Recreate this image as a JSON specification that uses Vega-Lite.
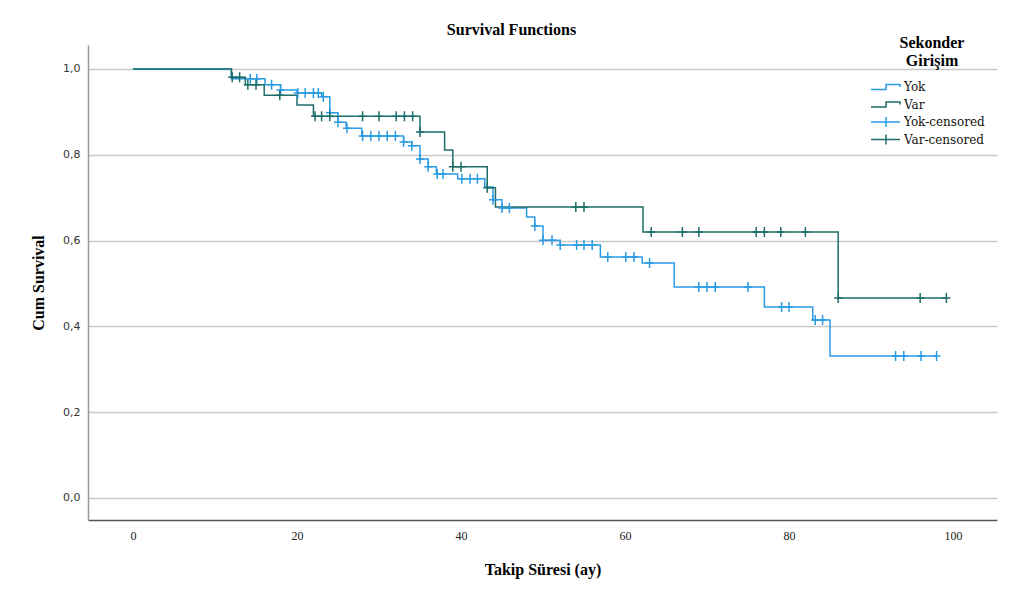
{
  "$schema": "https://vega.github.io/schema/vega-lite/v6.json",
  "autosize": {"type": "none"},
  "padding": {"left": 88, "top": 45, "right": 13, "bottom": 74},
  "width": 909,
  "height": 475,
  "background": "white",
  "config": {"view": {"stroke": null}},
  "title": {"text": "Survival Functions", "font": "Liberation Serif", "fontSize": 16, "fontWeight": "bold", "color": "#000", "anchor": "middle", "frame": "group", "dx": -31, "offset": -3},
  "data": {"values": [
    {"label": "Yok", "kind": "curve", "t": 0, "s": 1.0},
    {"label": "Yok", "kind": "curve", "t": 12.0, "s": 0.977},
    {"label": "Yok", "kind": "curve", "t": 16.1, "s": 0.963},
    {"label": "Yok", "kind": "curve", "t": 18.0, "s": 0.951},
    {"label": "Yok", "kind": "curve", "t": 20.0, "s": 0.944},
    {"label": "Yok", "kind": "curve", "t": 23.0, "s": 0.935},
    {"label": "Yok", "kind": "curve", "t": 24.0, "s": 0.898},
    {"label": "Yok", "kind": "curve", "t": 25.0, "s": 0.876},
    {"label": "Yok", "kind": "curve", "t": 26.0, "s": 0.862},
    {"label": "Yok", "kind": "curve", "t": 27.9, "s": 0.844},
    {"label": "Yok", "kind": "curve", "t": 33.0, "s": 0.830},
    {"label": "Yok", "kind": "curve", "t": 34.0, "s": 0.821},
    {"label": "Yok", "kind": "curve", "t": 35.0, "s": 0.790},
    {"label": "Yok", "kind": "curve", "t": 36.0, "s": 0.772},
    {"label": "Yok", "kind": "curve", "t": 37.0, "s": 0.755},
    {"label": "Yok", "kind": "curve", "t": 39.6, "s": 0.744},
    {"label": "Yok", "kind": "curve", "t": 42.9, "s": 0.725},
    {"label": "Yok", "kind": "curve", "t": 43.9, "s": 0.695},
    {"label": "Yok", "kind": "curve", "t": 45.0, "s": 0.676},
    {"label": "Yok", "kind": "curve", "t": 48.0, "s": 0.655},
    {"label": "Yok", "kind": "curve", "t": 49.0, "s": 0.634},
    {"label": "Yok", "kind": "curve", "t": 50.0, "s": 0.601},
    {"label": "Yok", "kind": "curve", "t": 52.1, "s": 0.590},
    {"label": "Yok", "kind": "curve", "t": 57.0, "s": 0.562},
    {"label": "Yok", "kind": "curve", "t": 62.1, "s": 0.548},
    {"label": "Yok", "kind": "curve", "t": 66.0, "s": 0.492},
    {"label": "Yok", "kind": "curve", "t": 77.0, "s": 0.445},
    {"label": "Yok", "kind": "curve", "t": 82.9, "s": 0.415},
    {"label": "Yok", "kind": "curve", "t": 85.0, "s": 0.331},
    {"label": "Yok", "kind": "curve", "t": 98.0, "s": 0.331},
    {"label": "Var", "kind": "curve", "t": 0, "s": 1.0},
    {"label": "Var", "kind": "curve", "t": 12.0, "s": 0.981},
    {"label": "Var", "kind": "curve", "t": 13.7, "s": 0.963},
    {"label": "Var", "kind": "curve", "t": 16.0, "s": 0.939},
    {"label": "Var", "kind": "curve", "t": 20.0, "s": 0.916},
    {"label": "Var", "kind": "curve", "t": 22.0, "s": 0.890},
    {"label": "Var", "kind": "curve", "t": 35.0, "s": 0.853},
    {"label": "Var", "kind": "curve", "t": 38.0, "s": 0.811},
    {"label": "Var", "kind": "curve", "t": 39.0, "s": 0.772},
    {"label": "Var", "kind": "curve", "t": 43.2, "s": 0.723},
    {"label": "Var", "kind": "curve", "t": 44.2, "s": 0.678},
    {"label": "Var", "kind": "curve", "t": 62.2, "s": 0.620},
    {"label": "Var", "kind": "curve", "t": 86.0, "s": 0.466},
    {"label": "Var", "kind": "curve", "t": 99.2, "s": 0.466},
    {"label": "Yok-censored", "kind": "censor", "t": 14.3, "s": 0.977},
    {"label": "Yok-censored", "kind": "censor", "t": 15.1, "s": 0.977},
    {"label": "Yok-censored", "kind": "censor", "t": 16.9, "s": 0.963},
    {"label": "Yok-censored", "kind": "censor", "t": 18.0, "s": 0.951},
    {"label": "Yok-censored", "kind": "censor", "t": 20.1, "s": 0.944},
    {"label": "Yok-censored", "kind": "censor", "t": 21.0, "s": 0.944},
    {"label": "Yok-censored", "kind": "censor", "t": 22.0, "s": 0.944},
    {"label": "Yok-censored", "kind": "censor", "t": 22.6, "s": 0.944},
    {"label": "Yok-censored", "kind": "censor", "t": 23.2, "s": 0.935},
    {"label": "Yok-censored", "kind": "censor", "t": 24.0, "s": 0.898},
    {"label": "Yok-censored", "kind": "censor", "t": 25.0, "s": 0.876},
    {"label": "Yok-censored", "kind": "censor", "t": 26.1, "s": 0.862},
    {"label": "Yok-censored", "kind": "censor", "t": 28.0, "s": 0.844},
    {"label": "Yok-censored", "kind": "censor", "t": 29.0, "s": 0.844},
    {"label": "Yok-censored", "kind": "censor", "t": 30.0, "s": 0.844},
    {"label": "Yok-censored", "kind": "censor", "t": 31.0, "s": 0.844},
    {"label": "Yok-censored", "kind": "censor", "t": 32.0, "s": 0.844},
    {"label": "Yok-censored", "kind": "censor", "t": 33.0, "s": 0.830},
    {"label": "Yok-censored", "kind": "censor", "t": 34.0, "s": 0.821},
    {"label": "Yok-censored", "kind": "censor", "t": 35.0, "s": 0.790},
    {"label": "Yok-censored", "kind": "censor", "t": 36.0, "s": 0.772},
    {"label": "Yok-censored", "kind": "censor", "t": 37.1, "s": 0.755},
    {"label": "Yok-censored", "kind": "censor", "t": 37.8, "s": 0.755},
    {"label": "Yok-censored", "kind": "censor", "t": 40.1, "s": 0.744},
    {"label": "Yok-censored", "kind": "censor", "t": 41.1, "s": 0.744},
    {"label": "Yok-censored", "kind": "censor", "t": 42.0, "s": 0.744},
    {"label": "Yok-censored", "kind": "censor", "t": 43.9, "s": 0.695},
    {"label": "Yok-censored", "kind": "censor", "t": 45.0, "s": 0.676},
    {"label": "Yok-censored", "kind": "censor", "t": 45.9, "s": 0.676},
    {"label": "Yok-censored", "kind": "censor", "t": 49.0, "s": 0.634},
    {"label": "Yok-censored", "kind": "censor", "t": 50.0, "s": 0.601},
    {"label": "Yok-censored", "kind": "censor", "t": 51.1, "s": 0.601},
    {"label": "Yok-censored", "kind": "censor", "t": 52.1, "s": 0.590},
    {"label": "Yok-censored", "kind": "censor", "t": 54.1, "s": 0.590},
    {"label": "Yok-censored", "kind": "censor", "t": 55.0, "s": 0.590},
    {"label": "Yok-censored", "kind": "censor", "t": 56.0, "s": 0.590},
    {"label": "Yok-censored", "kind": "censor", "t": 57.9, "s": 0.562},
    {"label": "Yok-censored", "kind": "censor", "t": 60.1, "s": 0.562},
    {"label": "Yok-censored", "kind": "censor", "t": 61.1, "s": 0.562},
    {"label": "Yok-censored", "kind": "censor", "t": 63.0, "s": 0.548},
    {"label": "Yok-censored", "kind": "censor", "t": 69.0, "s": 0.492},
    {"label": "Yok-censored", "kind": "censor", "t": 70.0, "s": 0.492},
    {"label": "Yok-censored", "kind": "censor", "t": 71.0, "s": 0.492},
    {"label": "Yok-censored", "kind": "censor", "t": 75.0, "s": 0.492},
    {"label": "Yok-censored", "kind": "censor", "t": 79.1, "s": 0.445},
    {"label": "Yok-censored", "kind": "censor", "t": 80.0, "s": 0.445},
    {"label": "Yok-censored", "kind": "censor", "t": 83.2, "s": 0.415},
    {"label": "Yok-censored", "kind": "censor", "t": 84.1, "s": 0.415},
    {"label": "Yok-censored", "kind": "censor", "t": 93.0, "s": 0.331},
    {"label": "Yok-censored", "kind": "censor", "t": 94.0, "s": 0.331},
    {"label": "Yok-censored", "kind": "censor", "t": 96.1, "s": 0.331},
    {"label": "Yok-censored", "kind": "censor", "t": 98.0, "s": 0.331},
    {"label": "Var-censored", "kind": "censor", "t": 12.1, "s": 0.981},
    {"label": "Var-censored", "kind": "censor", "t": 13.0, "s": 0.981},
    {"label": "Var-censored", "kind": "censor", "t": 14.0, "s": 0.963},
    {"label": "Var-censored", "kind": "censor", "t": 15.0, "s": 0.963},
    {"label": "Var-censored", "kind": "censor", "t": 17.9, "s": 0.939},
    {"label": "Var-censored", "kind": "censor", "t": 22.2, "s": 0.890},
    {"label": "Var-censored", "kind": "censor", "t": 23.0, "s": 0.890},
    {"label": "Var-censored", "kind": "censor", "t": 24.0, "s": 0.890},
    {"label": "Var-censored", "kind": "censor", "t": 28.0, "s": 0.890},
    {"label": "Var-censored", "kind": "censor", "t": 30.0, "s": 0.890},
    {"label": "Var-censored", "kind": "censor", "t": 32.1, "s": 0.890},
    {"label": "Var-censored", "kind": "censor", "t": 33.1, "s": 0.890},
    {"label": "Var-censored", "kind": "censor", "t": 34.1, "s": 0.890},
    {"label": "Var-censored", "kind": "censor", "t": 35.0, "s": 0.853},
    {"label": "Var-censored", "kind": "censor", "t": 39.0, "s": 0.772},
    {"label": "Var-censored", "kind": "censor", "t": 40.0, "s": 0.772},
    {"label": "Var-censored", "kind": "censor", "t": 43.2, "s": 0.723},
    {"label": "Var-censored", "kind": "censor", "t": 54.0, "s": 0.678},
    {"label": "Var-censored", "kind": "censor", "t": 55.0, "s": 0.678},
    {"label": "Var-censored", "kind": "censor", "t": 63.2, "s": 0.620},
    {"label": "Var-censored", "kind": "censor", "t": 67.0, "s": 0.620},
    {"label": "Var-censored", "kind": "censor", "t": 69.0, "s": 0.620},
    {"label": "Var-censored", "kind": "censor", "t": 76.0, "s": 0.620},
    {"label": "Var-censored", "kind": "censor", "t": 77.0, "s": 0.620},
    {"label": "Var-censored", "kind": "censor", "t": 79.0, "s": 0.620},
    {"label": "Var-censored", "kind": "censor", "t": 82.0, "s": 0.620},
    {"label": "Var-censored", "kind": "censor", "t": 86.0, "s": 0.466},
    {"label": "Var-censored", "kind": "censor", "t": 96.0, "s": 0.466},
    {"label": "Var-censored", "kind": "censor", "t": 99.2, "s": 0.466}
  ]},
  "encoding": {
    "x": {"field": "t", "type": "quantitative",
      "scale": {"domain": [-5.49, 105.37], "nice": false, "zero": false},
      "axis": {"title": "Takip Süresi (ay)", "values": [0, 20, 40, 60, 80, 100], "grid": false, "ticks": false, "labelPadding": 10,
        "labelFont": "Liberation Serif", "labelFontSize": 12, "labelColor": "#222", "labelFlush": false,
        "titleFont": "Liberation Serif", "titleFontSize": 16, "titleFontWeight": "bold", "titleColor": "#000", "titlePadding": 20,
        "domainColor": "#555", "domainWidth": 1.5}},
    "y": {"field": "s", "type": "quantitative",
      "scale": {"domain": [-0.0513, 1.0559], "nice": false, "zero": false},
      "axis": {"title": "Cum Survival", "values": [0, 0.2, 0.4, 0.6, 0.8, 1.0],
        "labelExpr": "replace(format(datum.value, '.1f'), '.', ',')",
        "grid": true, "gridColor": "#c8c8c8", "gridWidth": 1.5, "ticks": false, "labelPadding": 8,
        "labelFont": "DejaVu Sans", "labelFontSize": 11, "labelColor": "#333",
        "titleFont": "Liberation Serif", "titleFontSize": 16, "titleFontWeight": "bold", "titleColor": "#000", "titlePadding": 16,
        "domainColor": "#999", "domainWidth": 1.5}},
    "color": {"field": "label", "type": "nominal",
      "scale": {"domain": ["Yok", "Var", "Yok-censored", "Var-censored"], "range": ["#2a9be3", "#1d6e68", "#2a9be3", "#1d6e68"]},
      "legend": {"orient": "none", "legendX": 792, "legendY": -10,
        "title": ["Sekonder", "Girişim"], "titleFont": "Liberation Serif", "titleFontSize": 16, "titleFontWeight": "bold", "titleColor": "#000",
        "titleAnchor": "middle", "titleAlign": "center", "titleLineHeight": 18, "titlePadding": 12,
        "labelFont": "DejaVu Serif", "labelFontSize": 12, "labelColor": "#111", "labelOffset": 12,
        "symbolSize": 100, "symbolStrokeWidth": 1.5, "rowPadding": 1.5, "gridAlign": "all",
        "encoding": {"symbols": {"shape": {"value": {"signal": "indexof(['Yok','Var'], datum.value) >= 0 ? 'M-3,0.5L0,0.5L0,-0.5L2.8,-0.5L2.8,0' : 'M-3,0L2.8,0M0,-1L0,1'"}}}}}}
  },
  "layer": [
    {"transform": [{"filter": "datum.kind == 'curve'"}],
     "mark": {"type": "line", "interpolate": "step-after", "strokeWidth": 1.5}},
    {"transform": [{"filter": "datum.kind == 'censor'"}],
     "mark": {"type": "point", "shape": "M-0.8,0L0.8,0M0,-1L0,1", "filled": false, "size": 100, "strokeWidth": 1.5, "opacity": 1}}
  ]
}
